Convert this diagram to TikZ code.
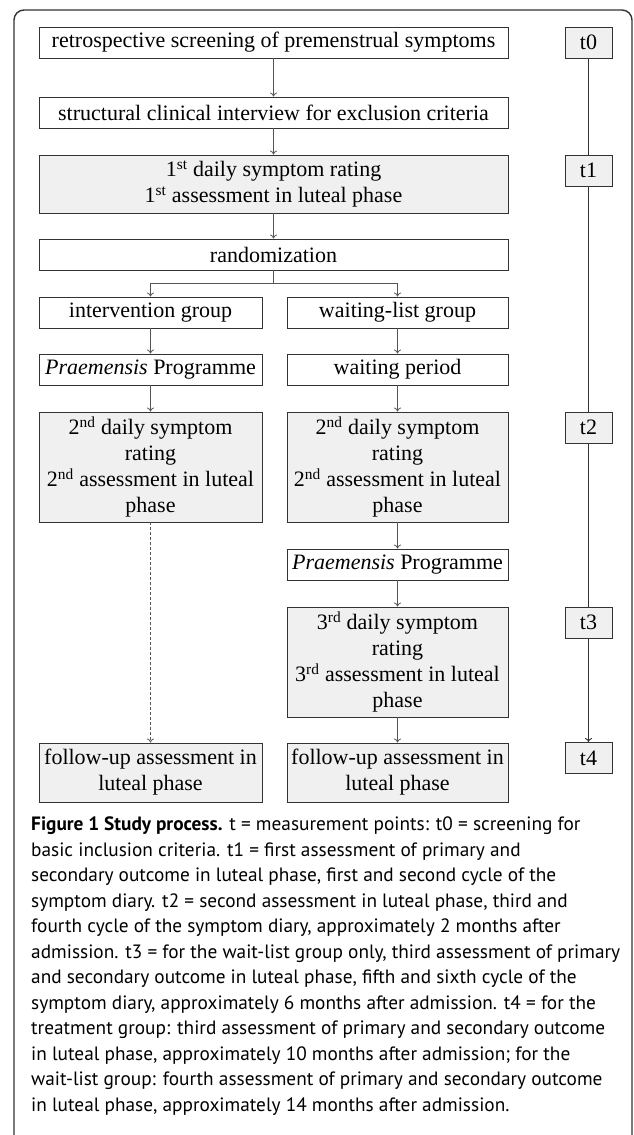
\documentclass[tikz,border=0pt]{standalone}
\usepackage{fontspec}
\setmainfont{Liberation Serif}
\newfontfamily\capfont{PT Sans}
\usetikzlibrary{arrows.meta}
\definecolor{boxgray}{HTML}{F0F0F0}
\definecolor{linegray}{HTML}{333333}
\definecolor{arrowgray}{HTML}{555555}
\begin{document}
\begin{tikzpicture}[x=1pt,y=-1pt,
  box/.style={draw=linegray, line width=0.9pt, fill=white, align=center, inner sep=0pt,
    font=\fontsize{22}{26}\selectfont},
  gbox/.style={box, fill=boxgray},
  wide/.style={minimum width=469pt},
  tbox/.style={gbox, minimum width=47pt, minimum height=31pt},
  arr/.style={draw=arrowgray, line width=0.8pt, -{To[length=4pt,width=7pt]}},
  plain/.style={draw=arrowgray, line width=0.8pt},
  tline/.style={draw=linegray, line width=0.9pt}
]
\useasboundingbox (0,0) rectangle (633,1135);
\clip (0,0) rectangle (633,1135);
\draw[linegray, line width=1.4pt, rounded corners=10pt] (14,1160) -- (14,10) -- (632,10) -- (632,1160);

\node[box, wide, minimum height=31pt] (b1) at (273.5,42.5) {retrospective screening of premenstrual symptoms};
\node[box, wide, minimum height=31pt] (b2) at (273.5,112.5) {structural clinical interview for exclusion criteria};
\node[gbox, wide, minimum height=58pt] (b3) at (273.5,184) {1\textsuperscript{st} daily symptom rating\\1\textsuperscript{st} assessment in luteal phase};
\node[box, wide, minimum height=31pt] (rand) at (273.5,254.5) {randomization};
\node[box, minimum width=223pt, minimum height=31pt] (int) at (150.5,312.5) {intervention group};
\node[box, minimum width=221pt, minimum height=31pt] (wl) at (397.5,312.5) {waiting-list group};
\node[box, minimum width=223pt, minimum height=31pt] (prL) at (150.5,369.5) {\textit{Praemensis} Programme};
\node[box, minimum width=221pt, minimum height=31pt] (wp) at (397.5,369.5) {waiting period};
\node[gbox, minimum width=223pt, minimum height=110pt] (sL) at (150.5,467) {2\textsuperscript{nd} daily symptom\\rating\\2\textsuperscript{nd} assessment in luteal\\phase};
\node[gbox, minimum width=221pt, minimum height=110pt] (sR) at (397.5,467) {2\textsuperscript{nd} daily symptom\\rating\\2\textsuperscript{nd} assessment in luteal\\phase};
\node[box, minimum width=221pt, minimum height=31pt] (prR) at (397.5,564.5) {\textit{Praemensis} Programme};
\node[gbox, minimum width=221pt, minimum height=110pt] (th) at (397.5,662) {3\textsuperscript{rd} daily symptom\\rating\\3\textsuperscript{rd} assessment in luteal\\phase};
\node[gbox, minimum width=223pt, minimum height=59pt] (fL) at (150.5,772.5) {follow-up assessment in\\luteal phase};
\node[gbox, minimum width=221pt, minimum height=59pt] (fR) at (397.5,772.5) {follow-up assessment in\\luteal phase};

\node[tbox] (t0) at (588.5,42.5) {t0};
\node[tbox] (t1) at (588.5,170.5) {t1};
\node[tbox] (t2) at (588.5,427.5) {t2};
\node[tbox] (t3) at (588.5,622.5) {t3};
\node[tbox] (t4) at (588.5,758) {t4};

\draw[arr] (b1) -- (b2);
\draw[arr] (b2) -- (b3);
\draw[arr] (b3) -- (rand);
\coordinate (br) at (273.5,283);
\draw[plain] (rand.south) -- (br);
\draw[arr] (br) -| (int.north);
\draw[arr] (br) -| (wl.north);
\draw[arr] (int) -- (prL);
\draw[arr] (wl) -- (wp);
\draw[arr] (prL) -- (sL);
\draw[arr] (wp) -- (sR);
\draw[arr] (sR) -- (prR);
\draw[arr] (prR) -- (th);
\draw[arr] (th) -- (fR);
\draw[arr, dash pattern=on 3pt off 2pt] (sL) -- (fL);

\draw[tline] (t0) -- (t1);
\draw[tline] (t1) -- (t2);
\draw[tline] (t2) -- (t3);
\draw[tline, -{To[length=4pt,width=7pt]}] (t3) -- (t4);

\node[anchor=north west, inner sep=0pt, align=left, text=black,
  font=\capfont\fontsize{19.3}{25.5}\selectfont] (cap) at (31,817)
{\textbf{Figure 1 Study process.} t = measurement points: t0 = screening for\\
basic inclusion criteria. t1 = first assessment of primary and\\
secondary outcome in luteal phase, first and second cycle of the\\
symptom diary. t2 = second assessment in luteal phase, third and\\
fourth cycle of the symptom diary, approximately 2 months after\\
admission. t3 = for the wait-list group only, third assessment of primary\\
and secondary outcome in luteal phase, fifth and sixth cycle of the\\
symptom diary, approximately 6 months after admission. t4 = for the\\
treatment group: third assessment of primary and secondary outcome\\
in luteal phase, approximately 10 months after admission; for the\\
wait-list group: fourth assessment of primary and secondary outcome\\
in luteal phase, approximately 14 months after admission.};
\end{tikzpicture}
\end{document}
